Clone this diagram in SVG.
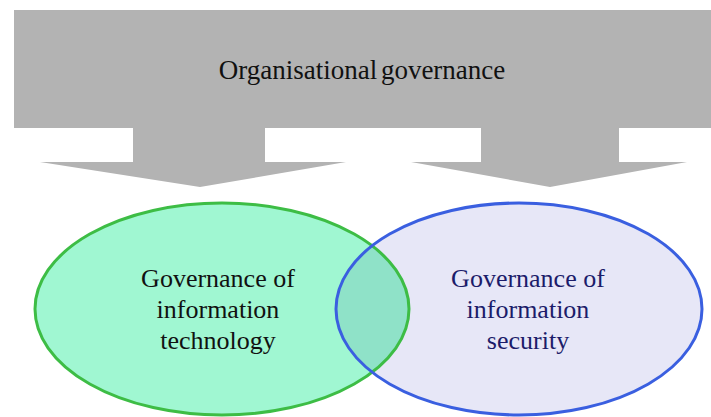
<svg xmlns="http://www.w3.org/2000/svg" width="711" height="417" viewBox="0 0 711 417">
<style>
.gray{fill:#b3b3b3}
.t{font-family:"Liberation Serif","Times New Roman",serif;text-anchor:middle}
.big{font-size:27px;fill:#111}
.lbl{font-size:26px}
</style>
<defs>
<clipPath id="clipL"><ellipse cx="222" cy="309" rx="187" ry="106"/></clipPath>
</defs>
<rect width="711" height="417" fill="#ffffff"/>
<g id="org">
<rect class="gray" x="14" y="10" width="697" height="118"/>
<text class="t big" x="362" y="79" word-spacing="-3">Organisational governance</text>
</g>
<g id="connectors">
<polygon class="gray" points="133,127 265,127 265,162 346,162 200,187 40,162 133,162"/>
<polygon class="gray" points="481,127 619,127 619,162 687,162 550,187 411,162 481,162"/>
</g>
<g id="git">
<ellipse cx="222" cy="309" rx="187" ry="106" fill="#a0f7d2"/>
</g>
<g id="gis">
<ellipse cx="519" cy="309" rx="183" ry="106" fill="#e7e7f7"/>
<ellipse cx="519" cy="309" rx="183" ry="106" fill="#8fe2c8" clip-path="url(#clipL)"/>
</g>
<ellipse cx="222" cy="309" rx="187" ry="106" fill="none" stroke="#3dbd45" stroke-width="3"/>
<ellipse cx="519" cy="309" rx="183" ry="106" fill="none" stroke="#3a5fe0" stroke-width="3"/>
<g id="git-text">
<text class="t lbl" fill="#111" x="218" y="287">Governance of</text>
<text class="t lbl" fill="#111" x="218" y="318">information</text>
<text class="t lbl" fill="#111" x="218" y="349">technology</text>
</g>
<g id="gis-text">
<text class="t lbl" fill="#1c1c6a" x="528" y="287">Governance of</text>
<text class="t lbl" fill="#1c1c6a" x="528" y="318">information</text>
<text class="t lbl" fill="#1c1c6a" x="528" y="349">security</text>
</g>
</svg>
